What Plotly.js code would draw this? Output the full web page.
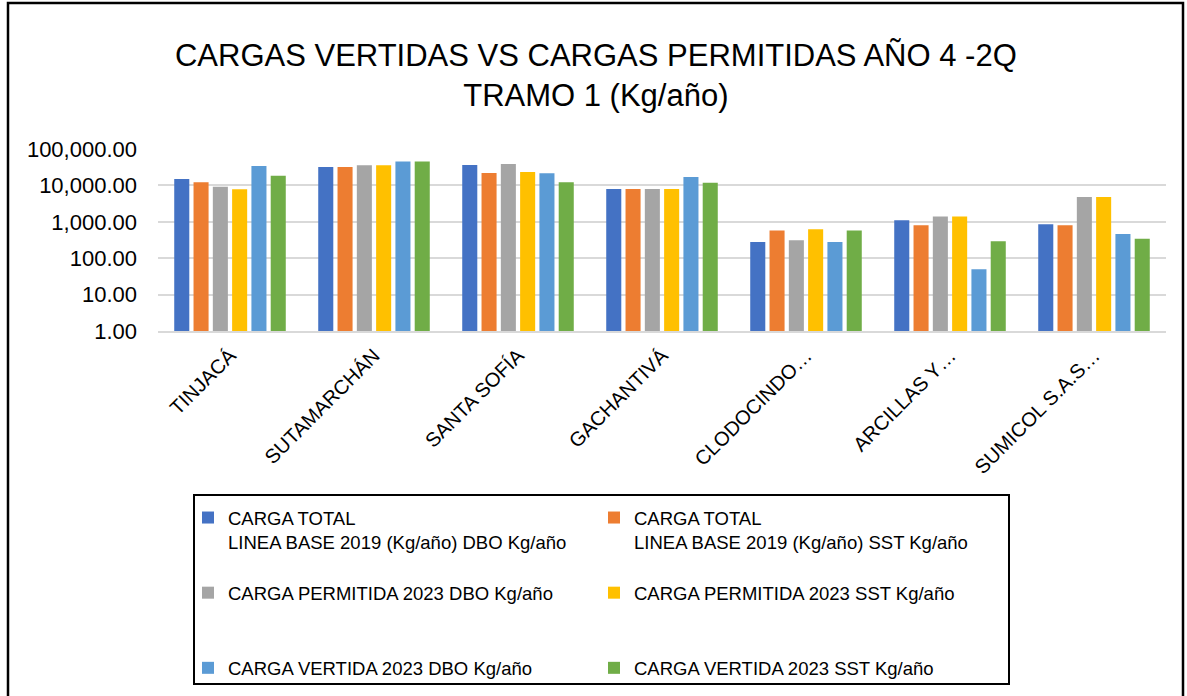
<!DOCTYPE html>
<html>
<head>
<meta charset="utf-8">
<script src="https://cdn.plot.ly/plotly-3.0.1.min.js"></script>
<style>html,body{margin:0;padding:0;background:#fff;}#chart{width:1187px;height:696px;}</style>
</head>
<body>
<div id="chart"></div>
<script>
const categories = ["TINJACÁ", "SUTAMARCHÁN", "SANTA SOFÍA", "GACHANTIVÁ", "CLODOCINDO…", "ARCILLAS Y…", "SUMICOL S.A.S…"];
const seriesNames = [
  "CARGA TOTAL<br>LINEA BASE 2019 (Kg/año) DBO Kg/año<br> ",
  "CARGA TOTAL<br>LINEA BASE 2019 (Kg/año) SST Kg/año<br> ",
  "CARGA PERMITIDA 2023 DBO Kg/año<br> <br> ",
  "CARGA PERMITIDA 2023 SST Kg/año<br> <br> ",
  "CARGA VERTIDA 2023 DBO Kg/año",
  "CARGA VERTIDA 2023 SST Kg/año"
];
const seriesColors = ["#4472C4", "#ED7D31", "#A5A5A5", "#FFC000", "#5B9BD5", "#70AD47"];
const dboBase2019 = [15000, 32000, 36500, 8000, 280, 1100, 850];
const sstBase2019 = [12200, 32000, 22000, 8000, 580, 800, 800];
const dboPermitida2023 = [9200, 35500, 38500, 8000, 310, 1400, 4800];
const sstPermitida2023 = [7800, 35500, 23300, 8000, 620, 1400, 4800];
const dboVertida2023 = [34000, 45000, 21700, 17000, 280, 50, 460];
const sstVertida2023 = [18500, 45000, 12200, 11900, 580, 290, 340];
const yTickVals = [1, 10, 100, 1000, 10000, 100000];
const yTickText = ["1.00", "10.00", "100.00", "1,000.00", "10,000.00", "100,000.00"];

const allSeries = [dboBase2019, sstBase2019, dboPermitida2023, sstPermitida2023, dboVertida2023, sstVertida2023];
const FONT = "'Liberation Sans', Arial, sans-serif";

const traces = allSeries.map((vals, i) => ({
  type: "bar",
  x: categories,
  y: vals,
  name: seriesNames[i],
  marker: {color: seriesColors[i], line: {width: 0}}
}));

const layout = {
  width: 1187,
  height: 696,
  margin: {l: 158, r: 21, t: 149, b: 365, autoexpand: false},
  paper_bgcolor: "#ffffff",
  plot_bgcolor: "#ffffff",
  font: {family: FONT, color: "#000000"},
  barmode: "group",
  bargap: 0.196,
  bargroupgap: 0.22,
  title: {
    text: "CARGAS VERTIDAS VS CARGAS PERMITIDAS AÑO 4 -2Q<br>TRAMO 1 (Kg/año)",
    font: {family: FONT, size: 31, color: "#000000"},
    xref: "container", x: 0.502, xanchor: "center",
    yref: "container", y: 1 - 66 / 696, yanchor: "middle"
  },
  xaxis: {
    type: "category",
    tickangle: -45,
    tickfont: {family: FONT, size: 20, color: "#000000"},
    showline: true, linecolor: "#d9d9d9", linewidth: 2,
    ticks: "", showgrid: false,
    ticklabelstandoff: 3
  },
  yaxis: {
    type: "log",
    range: [0, 5],
    tickvals: yTickVals,
    ticktext: yTickText,
    tickfont: {family: FONT, size: 22, color: "#000000"},
    showgrid: true, gridcolor: "#d9d9d9", gridwidth: 2,
    zeroline: false, showline: false, ticks: "",
    ticklabelstandoff: 20
  },
  showlegend: true,
  legend: {
    orientation: "h",
    x: (188 - 158) / 1008, xanchor: "left",
    y: (331 - 499) / 182, yanchor: "top",
    entrywidth: 361, entrywidthmode: "pixels",
    valign: "top",
    traceorder: "normal",
    font: {family: FONT, size: 18.5, color: "#000000"},
    bgcolor: "rgba(0,0,0,0)",
    borderwidth: 0
  },
  shapes: [
    {type: "rect", xref: "paper", yref: "paper",
     x0: (8 - 158) / 1008, x1: (1183 - 158) / 1008,
     y0: (331 - 710) / 182, y1: (331 - 3) / 182,
     line: {color: "#000000", width: 2.5}, fillcolor: "rgba(0,0,0,0)"},
    {type: "rect", xref: "paper", yref: "paper",
     x0: (194 - 158) / 1008, x1: (1009 - 158) / 1008,
     y0: (331 - 684) / 182, y1: (331 - 495) / 182,
     line: {color: "#000000", width: 2}, fillcolor: "rgba(0,0,0,0)"}
  ]
};

Plotly.newPlot("chart", traces, layout, {displayModeBar: false, staticPlot: true});
</script>
</body>
</html>
